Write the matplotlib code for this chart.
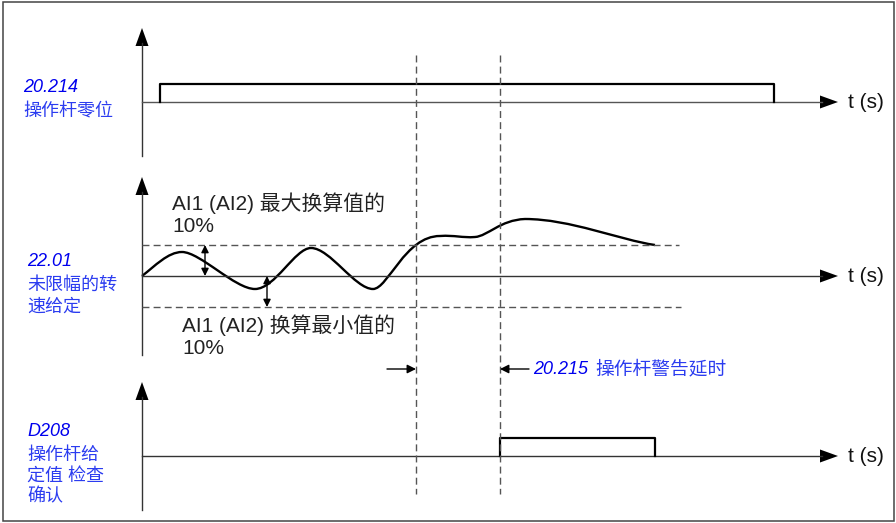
import numpy as np
import matplotlib
matplotlib.use("Agg")
import matplotlib.pyplot as plt
from matplotlib.path import Path
from matplotlib.patches import PathPatch, Polygon, Rectangle

plt.rcParams['font.family'] = ['Liberation Sans', 'Noto Sans CJK SC', 'DejaVu Sans']

# ---------------------------------------------------------------
# diagram values (time axis in drawing units, levels in drawing units)
panel_names = ['20.214', '22.01', 'D208']
panel_desc = [['操作杆零位'], ['未限幅的转', '速给定'], ['操作杆给', '定值 检查', '确认']]
name_y = [88, 261, 431]
desc_y = [[112], [285, 307], [455, 477, 497]]
panel_base = [102, 276, 456]           # baseline of each trace
panel_top = [28, 177, 382]             # tip of vertical arrow
panel_bottom = [156, 355, 510]

zero_pos_t = [160, 160, 774, 774]      # 20.214 pulse
zero_pos_lvl = [102, 84, 84, 102]
check_t = [500, 500, 655, 655]         # D208 pulse
check_lvl = [456, 438, 438, 456]

band_hi, band_lo = 245, 307            # +-10 % band
band_end = [679, 681]

warn_start, warn_end = 416, 500        # 20.215 delay window

# speed reference curve: cubic bezier anchors + control points
curve_pts = [(142, 276),
             (155, 266), (168, 252), (182, 252),
             (200, 252), (235, 289), (255, 289),
             (275, 289), (295, 248), (311, 248),
             (330, 248), (355, 289), (373, 289),
             (388, 289), (405, 236), (440, 236),
             (455, 235), (462, 238), (475, 237),
             (488, 236), (500, 220), (525, 219),
             (570, 219), (620, 240), (655, 245)]

blue = '#0000ee'
blue_cn = '#2b3cf0'
grey = '#555555'

# ---------------------------------------------------------------
fig = plt.figure(figsize=(8.96, 5.23), dpi=100)
ax = fig.add_axes([0, 0, 1, 1])
ax.set_xlim(0, 896)
ax.set_ylim(523, 0)
ax.axis('off')

ax.add_patch(Rectangle((3, 2), 891, 519, fill=False, edgecolor='#444444', lw=1.1))


def head(x, y, d, L=18, W=6.5):
    if d == 'up':
        pts = [(x, y), (x - W, y + L), (x + W, y + L)]
    else:
        pts = [(x, y), (x - L, y - W), (x - L, y + W)]
    ax.add_patch(Polygon(pts, closed=True, color='black', lw=0))


x0 = 142
for i in range(3):
    base = panel_base[i]
    ax.plot([x0, x0], [panel_top[i] + 15, panel_bottom[i]], color='#333333', lw=1.0)
    head(x0, panel_top[i], 'up')
    ax.plot([x0, 822], [base, base], color='#333333' if i else grey, lw=1.0)
    head(838, base, 'right')
    ax.text(848, base, 't (s)', fontsize=15, va='center', ha='left', color='#111111')

    # labels on the left
    lx = 23 if i == 0 else 27
    ax.text(lx, name_y[i], panel_names[i], fontsize=13, color=blue,
            style='italic', va='center')
    for line, yy in zip(panel_desc[i], desc_y[i]):
        ax.text(lx, yy, line, fontsize=13, color=blue_cn, va='center')

# pulses
ax.plot(zero_pos_t, zero_pos_lvl, color='black', lw=1.6)
ax.plot(check_t, check_lvl, color='black', lw=1.6)

# band
ax.plot([x0, band_end[0]], [band_hi, band_hi], color=grey, lw=1.0, ls=(0, (5, 3)))
ax.plot([x0, band_end[1]], [band_lo, band_lo], color=grey, lw=1.0, ls=(0, (5, 3)))

# curve
codes = [Path.MOVETO] + [Path.CURVE4] * (len(curve_pts) - 1)
ax.add_patch(PathPatch(Path(curve_pts, codes), fill=False, edgecolor='black', lw=1.7))

# 10 % arrows
for xa, ya in ((205, band_hi), (267, band_lo)):
    ax.annotate('', xy=(xa, ya), xytext=(xa, 276),
                arrowprops=dict(arrowstyle='<|-|>', color='black', lw=1.0,
                                mutation_scale=11, shrinkA=0, shrinkB=0))

ax.text(172, 203, 'AI1 (AI2) 最大换算值的', fontsize=15, color='#222222', va='center')
ax.text(172, 226, '10%', fontsize=15, color='#222222', va='center')
ax.text(182, 325, 'AI1 (AI2) 换算最小值的', fontsize=15, color='#222222', va='center')
ax.text(182, 348, '10%', fontsize=15, color='#222222', va='center')

# delay window
for xv in (warn_start, warn_end):
    ax.plot([xv, xv], [55, 494], color=grey, lw=1.0, ls=(0, (5, 3)))
ax.annotate('', xy=(warn_start, 369), xytext=(387, 369),
            arrowprops=dict(arrowstyle='-|>', color='black', lw=1.0,
                            mutation_scale=13, shrinkA=0, shrinkB=0))
ax.annotate('', xy=(warn_end, 369), xytext=(529, 369),
            arrowprops=dict(arrowstyle='-|>', color='black', lw=1.0,
                            mutation_scale=13, shrinkA=0, shrinkB=0))
ax.text(533, 369, '20.215', fontsize=13, color=blue, style='italic', va='center')
ax.text(595, 369, '操作杆警告延时', fontsize=13.5, color=blue_cn, va='center')

fig.savefig('out.png', dpi=100)
